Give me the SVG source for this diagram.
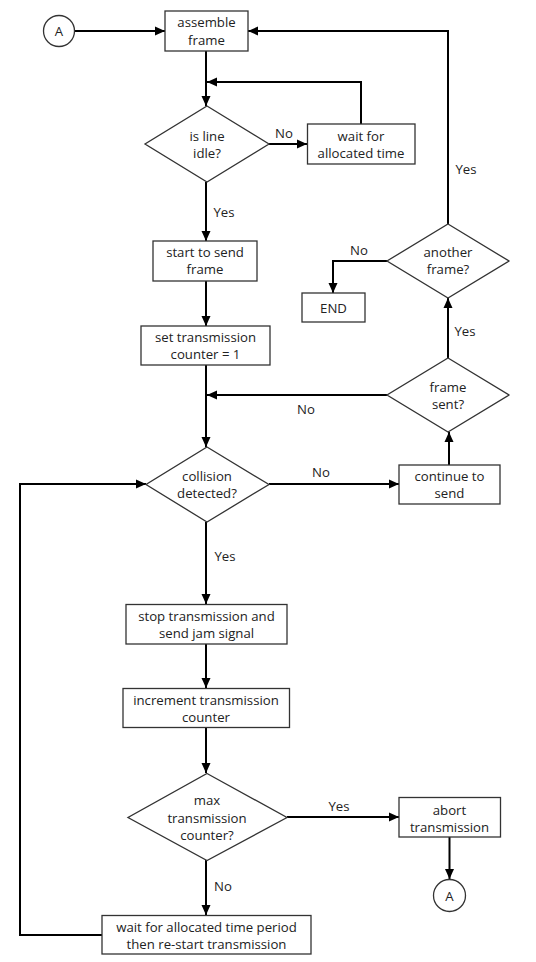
<svg xmlns="http://www.w3.org/2000/svg" width="536" height="962" viewBox="0 0 536 962">
<defs>
<marker id="arr" markerUnits="userSpaceOnUse" markerWidth="10" markerHeight="10" refX="10" refY="5" orient="auto">
<path d="M0,0.5 L10,5 L0,9.5 z" fill="#000"/>
</marker>
<style>
.box{fill:#fff;stroke:#333;stroke-width:1.3}
.t{font-family:"Open Sans","Noto Sans",sans-serif;font-size:13.2px;fill:#222;text-anchor:middle;dominant-baseline:central}
.c{fill:none;stroke:#000;stroke-width:2;marker-end:url(#arr)}
</style>
</defs>
<rect width="536" height="962" fill="#fff"/>
<g id="connectors">
<path class="c" d="M74,31 H165"/>
<path class="c" d="M206,51 V106"/>
<path class="c" d="M361,124 V82 H207"/>
<path class="c" d="M269,144 H307"/>
<path class="c" d="M206,182 V241"/>
<path class="c" d="M206,281 V326"/>
<path class="c" d="M206,365 V447"/>
<path class="c" d="M269,484 H399"/>
<path class="c" d="M449,465 V432"/>
<path class="c" d="M387,395 H207"/>
<path class="c" d="M448,358 V298"/>
<path class="c" d="M448,224 V31 H248"/>
<path class="c" d="M387,261 H333 V293"/>
<path class="c" d="M206,522 V604"/>
<path class="c" d="M206,644 V688"/>
<path class="c" d="M206,727 V773"/>
<path class="c" d="M287,817 H399"/>
<path class="c" d="M449.5,837 V879"/>
<path class="c" d="M206,860 V915"/>
<path class="c" d="M102,935 H20 V484 H146"/>
</g>
<g id="labels">
<text class="t" x="284" y="133">No</text>
<text class="t" x="466" y="169">Yes</text>
<text class="t" x="224" y="212">Yes</text>
<text class="t" x="359" y="250">No</text>
<text class="t" x="465" y="331">Yes</text>
<text class="t" x="306" y="409">No</text>
<text class="t" x="321" y="472">No</text>
<text class="t" x="225" y="556">Yes</text>
<text class="t" x="339" y="806">Yes</text>
<text class="t" x="223" y="886">No</text>
</g>
<g id="A1"><circle class="box" cx="59" cy="31" r="15.5"/><text class="t" x="59" y="31">A</text></g>
<g id="assemble"><rect class="box" x="165" y="11" width="83" height="40"/><text class="t" x="206.5" y="22">assemble</text><text class="t" x="206.5" y="39.5">frame</text></g>
<g id="idle"><polygon class="box" points="207,106 269,144 207,182 145,144"/><text class="t" x="207" y="135.5">is line</text><text class="t" x="207" y="152.5">idle?</text></g>
<g id="waitalloc"><rect class="box" x="307.5" y="124" width="107.5" height="40"/><text class="t" x="361" y="135.5">wait for</text><text class="t" x="361" y="152.5">allocated time</text></g>
<g id="start"><rect class="box" x="153" y="241" width="104" height="40"/><text class="t" x="205" y="252">start to send</text><text class="t" x="205" y="269">frame</text></g>
<g id="another"><polygon class="box" points="448,224 509,261 448,298 387,261"/><text class="t" x="448" y="252">another</text><text class="t" x="448" y="269">frame?</text></g>
<g id="end"><rect class="box" x="302" y="293" width="63" height="29"/><text class="t" x="333.5" y="308">END</text></g>
<g id="setcounter"><rect class="box" x="141" y="326" width="129" height="39"/><text class="t" x="205.5" y="337">set transmission</text><text class="t" x="205.5" y="354">counter = 1</text></g>
<g id="framesent"><polygon class="box" points="448,358 509,395 448,432 387,395"/><text class="t" x="448" y="386.5">frame</text><text class="t" x="448" y="403.5">sent?</text></g>
<g id="collision"><polygon class="box" points="207,447 269,484.5 207,522 146,484.5"/><text class="t" x="207" y="476">collision</text><text class="t" x="207" y="493">detected?</text></g>
<g id="continue"><rect class="box" x="399" y="465" width="101" height="39"/><text class="t" x="449.5" y="476">continue to</text><text class="t" x="449.5" y="493">send</text></g>
<g id="stop"><rect class="box" x="126" y="604.5" width="161" height="39.5"/><text class="t" x="206.5" y="615.5">stop transmission and</text><text class="t" x="206.5" y="632.5">send jam signal</text></g>
<g id="increment"><rect class="box" x="123" y="688.5" width="166.5" height="39"/><text class="t" x="206" y="700">increment transmission</text><text class="t" x="206" y="717">counter</text></g>
<g id="max"><polygon class="box" points="207,773.5 287,817.5 207,860.5 128,817.5"/><text class="t" x="207" y="800">max</text><text class="t" x="207" y="817.5">transmission</text><text class="t" x="207" y="834.5">counter?</text></g>
<g id="abort"><rect class="box" x="399" y="797.5" width="101.5" height="39.5"/><text class="t" x="449.5" y="809.5">abort</text><text class="t" x="449.5" y="826.5">transmission</text></g>
<g id="A2"><circle class="box" cx="449.5" cy="895.5" r="16"/><text class="t" x="449.5" y="895.5">A</text></g>
<g id="waitrestart"><rect class="box" x="102" y="915.5" width="209" height="38.5"/><text class="t" x="206.5" y="927">wait for allocated time period</text><text class="t" x="206.5" y="944">then re-start transmission</text></g>
</svg>
